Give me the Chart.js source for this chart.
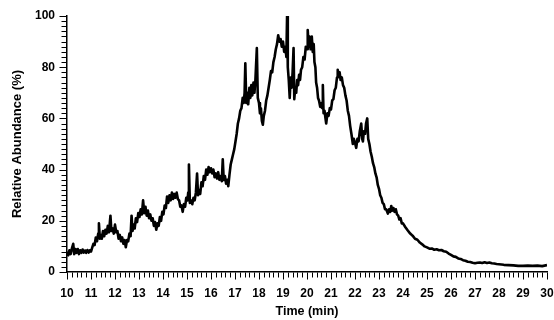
<!DOCTYPE html>
<html>
<head>
<meta charset="utf-8">
<script src="https://cdn.jsdelivr.net/npm/chart.js@4"></script>
<style>
html,body{margin:0;padding:0;background:#fff;}
#wrap{width:554px;height:320px;position:relative;}
</style>
</head>
<body>
<div id="wrap"><canvas id="c" width="554" height="320"></canvas></div>
<script>
// Retention time (min)
const times = [
10.00,10.05,10.10,10.15,10.20,10.26,10.30,10.35,10.40,10.45,10.50,10.55,10.60,10.65,10.70,10.75,10.80,10.85,10.90,10.95,
11.00,11.05,11.10,11.15,11.20,11.25,11.30,11.33,11.37,11.40,11.45,11.50,11.55,11.60,11.65,11.70,11.75,11.81,11.85,11.90,11.95,
12.00,12.05,12.10,12.15,12.20,12.25,12.30,12.35,12.40,12.45,12.50,12.55,12.60,12.65,12.69,12.73,12.78,12.82,12.87,12.92,12.97,
13.02,13.07,13.12,13.17,13.22,13.27,13.32,13.37,13.42,13.47,13.52,13.57,13.62,13.67,13.72,13.77,13.82,13.87,13.92,13.97,
14.02,14.07,14.12,14.17,14.22,14.27,14.32,14.37,14.42,14.47,14.52,14.57,14.62,14.67,14.72,14.77,14.82,14.87,14.92,14.97,
15.02,15.05,15.08,15.12,15.17,15.22,15.27,15.32,15.37,15.42,15.46,15.50,15.55,15.60,15.65,15.70,15.75,15.80,15.85,15.90,15.95,
16.00,16.05,16.10,16.15,16.20,16.25,16.30,16.35,16.40,16.45,16.49,16.53,16.58,16.63,16.68,16.72,16.77,16.82,16.87,16.92,16.97,
17.02,17.07,17.12,17.17,17.22,17.27,17.32,17.36,17.40,17.43,17.47,17.51,17.55,17.60,17.64,17.68,17.72,17.77,17.81,17.85,17.91,17.95,
18.00,18.04,18.08,18.12,18.16,18.20,18.25,18.30,18.35,18.40,18.45,18.50,18.55,18.60,18.65,18.70,18.75,18.80,18.85,18.90,18.95,
19.00,19.05,19.10,19.14,19.17,19.20,19.24,19.28,19.32,19.36,19.40,19.44,19.47,19.51,19.55,19.59,19.63,19.67,19.71,19.75,19.80,19.85,19.90,19.95,
20.00,20.03,20.07,20.10,20.15,20.20,20.24,20.28,20.31,20.35,20.38,20.42,20.46,20.50,20.55,20.60,20.63,20.66,20.69,20.73,20.77,20.80,20.85,20.90,20.95,
21.00,21.05,21.10,21.15,21.20,21.25,21.28,21.32,21.36,21.40,21.45,21.50,21.55,21.60,21.65,21.70,21.75,21.80,21.85,21.91,21.95,
22.00,22.05,22.10,22.15,22.20,22.26,22.30,22.33,22.37,22.42,22.46,22.51,22.55,22.60,22.65,22.70,22.75,22.80,22.85,22.90,22.95,
23.00,23.05,23.10,23.15,23.20,23.25,23.30,23.37,23.42,23.47,23.51,23.56,23.60,23.65,23.70,23.75,23.80,23.85,23.90,23.95,
24.0,24.1,24.2,24.3,24.4,24.5,24.6,24.7,24.8,24.9,
25.0,25.1,25.2,25.3,25.4,25.5,25.6,25.7,25.8,25.9,
26.0,26.1,26.2,26.3,26.4,26.5,26.6,26.7,26.8,26.9,
27.0,27.1,27.2,27.3,27.4,27.5,27.6,27.7,27.8,27.9,
28.0,28.2,28.4,28.6,28.8,
29.0,29.2,29.4,29.6,29.8,30.0
];
// Relative abundance (%)
const abundance = [
8,6.5,8.5,7,9,11,7,9,7.5,9,7,8.5,7.5,8.8,7.6,8.4,7.5,8.6,7.6,8.5,
8,9.5,11,10.5,13.5,12,15,19,13,14.5,13,16,14,16.5,15,18,15.5,22,16,17,15,
18.5,15.5,16,13,14.5,12,13.5,11,12.5,9.7,12.5,12,15,14,22,16,18.5,17,21,19.5,23,
21.5,24.5,22.5,28,23,25.5,22,24,21,22.5,20,21,18,19.5,16.5,19,18,21.5,20,23.5,
22.5,26,25,29.5,27,30,28,31,28.5,30.5,29,31,28.5,28,25.5,26,23.5,26.5,25.5,29,
28,31,42,27,28,26.5,29,28,31,38.5,30,32,30.5,35,33.5,37.5,36,40,38,41,39,
40.5,38.5,40,37,38.5,36.5,39,36,37.5,35.5,44,36,37.5,34.5,36,33.5,38,42,44,46,48,
51,54,58,60,63,64,68,66,70,81.5,66,70,65.5,72,68,73,69,74,70,75,87.5,68,
66,62,64,59,57.5,61,63,67,69,72,75,78.5,78,82,84,87,89,92.5,90,91,88,
90,86,88,84,100,80,75,68,76,72,78,87.5,67.5,72,70,75,73,77,75,79,80,84,83,88,
87,94.5,88,92,87,92,86,89,82,80,74,72,68,67,64.5,66,64,73,62,63,60,58,62,61,64,
63.5,67,67.5,71,72,76,79,77,78,75,76,73,72,69,67,63,61,57,54,50,52,
50.5,48.5,52,51,55,58,52,51,55,54,58,60,52,50,47,45,42.5,41,38.5,37,34,
32.5,30,29,27,26.5,24.5,24.5,22.8,24.5,23.5,25.8,24,25,23.5,24.5,22.5,22,20.5,21,19,
19,17.5,16.2,15,14.2,13,12.6,11.5,10.8,10,
9.6,9.1,9.2,8.7,8.9,8.5,8.6,8.1,7.9,7.2,
6.7,6.1,5.9,5.3,5.1,4.6,4.4,4,3.9,3.6,
3.4,3.6,3.7,3.5,3.8,3.5,3.7,3.4,3.3,3.1,
3,2.8,2.7,2.6,2.4,
2.4,2.5,2.4,2.5,2.3,2.7
];
const xTickLabels = [10,11,12,13,14,15,16,17,18,19,20,21,22,23,24,25,26,27,28,29,30];
const yTickLabels = [0,20,40,60,80,100];

const points = times.map((t,i)=>({x:t,y:abundance[i]}));

const tickPlugin = {
  id:'minorTicks',
  afterDraw(chart){
    const ctx = chart.ctx;
    const xs = chart.scales.x, ys = chart.scales.y;
    ctx.save();
    ctx.strokeStyle = '#000';
    ctx.lineWidth = 1;
    const yb = Math.round(ys.getPixelForValue(0)) + 0.5;
    for(let i=0;i<=100;i++){
      const px = Math.round(xs.getPixelForValue(10 + i*0.2)) + 0.5;
      const len = (i%5===0)?7:5;
      ctx.beginPath(); ctx.moveTo(px,yb); ctx.lineTo(px,yb+len); ctx.stroke();
    }
    const xl = Math.round(xs.getPixelForValue(10)) - 0.5;
    for(let i=0;i<=50;i++){
      const py = Math.round(ys.getPixelForValue(i*2)) + 0.5;
      const len = (i%10===0)?7:5;
      ctx.beginPath(); ctx.moveTo(xl,py); ctx.lineTo(xl-len,py); ctx.stroke();
    }
    ctx.restore();
  }
};

const FONT = '"Liberation Sans", Arial, sans-serif';
new Chart(document.getElementById('c'),{
  type:'line',
  data:{datasets:[{
    data:points,
    borderColor:'#000',
    borderWidth:2.6,
    borderJoinStyle:'round',
    pointRadius:0,
    tension:0,
    fill:false
  }]},
  options:{
    responsive:false,
    animation:false,
    events:[],
    layout:{padding:{left:0,right:7,top:16,bottom:0}},
    plugins:{legend:{display:false},tooltip:{enabled:false}},
    scales:{
      x:{
        type:'linear',min:10,max:30,
        afterFit(s){ s.height = 48; s.paddingLeft = 0; s.paddingRight = 0; },
        afterBuildTicks(s){ s.ticks = xTickLabels.map(v=>({value:v})); },
        grid:{display:false,drawTicks:false},
        border:{display:true,color:'#000',width:1.5},
        ticks:{padding:14,color:'#000',font:{family:FONT,size:12,weight:'bold'},maxRotation:0,autoSkip:false},
        title:{display:true,text:'Time (min)',color:'#000',font:{family:FONT,size:12.5,weight:'bold'},padding:{top:0,bottom:1}}
      },
      y:{
        min:0,max:100,
        afterFit(s){ s.width = 67; s.paddingTop = 0; s.paddingBottom = 0; },
        afterBuildTicks(s){ s.ticks = yTickLabels.map(v=>({value:v})); },
        grid:{display:false,drawTicks:false},
        border:{display:true,color:'#000',width:1.5},
        ticks:{padding:12,color:'#000',font:{family:FONT,size:12,weight:'bold'}},
        title:{display:true,text:'Relative Abundance (%)',color:'#000',font:{family:FONT,size:13,weight:'bold'},padding:{top:10,bottom:0}}
      }
    }
  },
  plugins:[tickPlugin]
});
</script>
</body>
</html>
